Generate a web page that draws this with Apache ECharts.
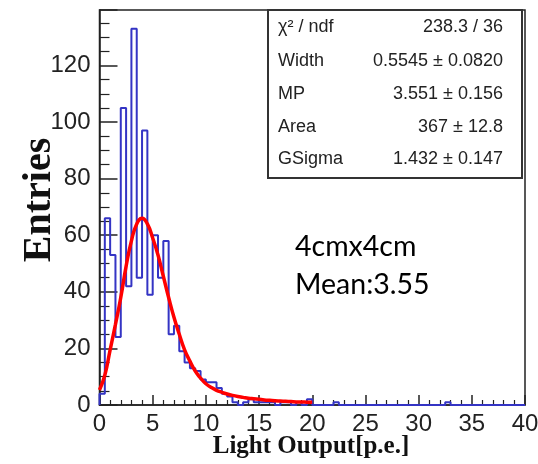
<!DOCTYPE html>
<html><head><meta charset="utf-8">
<script src="https://cdn.jsdelivr.net/npm/echarts@6/dist/echarts.min.js"></script>
<style>html,body{margin:0;padding:0;background:#fff}#c{width:538px;height:464px}</style>
</head><body><div id="c"></div>
<script>
// Histogram: 80 bins of width 0.5 from 0 to 40
const binWidth = 0.5;
const counts = [
  4, 66, 53, 24, 105, 42, 133, 45, 97, 39,
  60, 45, 58, 25, 28, 19, 15, 13, 12, 9,
  8, 8, 6, 4, 3, 1, 0, 1, 2, 1,
  1, 1, 1, 0, 1, 1, 0, 1, 0, 2,
  0, 0, 0, 0, 1, 0, 0, 0, 0, 0,
  0, 0, 0, 0, 0, 0, 0, 0, 0, 0,
  0, 0, 0, 0, 0, 1, 0, 0, 0, 0,
  0, 0, 0, 0, 0, 0, 0, 0, 0, 0
];
// Fit curve
const fitX = [0,0.5,1,1.5,2,2.5,3,3.5,4,4.5,5,5.5,6,6.5,7,7.5,8,8.5,9,9.5,10,
  10.5,11,11.5,12,12.5,13,13.5,14,14.5,15,15.5,16,16.5,17,17.5,18,18.5,19,19.5,20];
const fitY = [5.3,10.5,19.5,28.5,38,49,58,64,66,64,59,53,45.5,38,31,25,19.5,15.5,12,9.5,7.5,
  6.2,5.2,4.5,3.9,3.4,3.0,2.7,2.4,2.2,2.0,1.8,1.65,1.5,1.4,1.3,1.2,1.1,1.05,1.0,0.95];
const statLabels = ['\u03C7\u00B2 / ndf', 'Width', 'MP', 'Area', 'GSigma'];
const statValues = ['238.3 / 36', '0.5545 \u00B1 0.0820', '3.551 \u00B1 0.156', '367 \u00B1 12.8', '1.432 \u00B1 0.147'];
const noteLines = ['4cmx4cm', 'Mean:3.55'];
const xTitle = 'Light Output[p.e.]';
const yTitle = 'Entries';

const histPts = [[0, 0]];
counts.forEach((c, i) => histPts.push([i * binWidth, c]));
histPts.push([counts.length * binWidth, counts[counts.length - 1]]);
histPts.push([counts.length * binWidth, 0]);
const fitPts = fitX.map((x, i) => [x, fitY[i]]);

const chart = echarts.init(document.getElementById('c'), null, {renderer: 'canvas'});
const statRowY = [27, 61, 94, 127, 159];
const graphics = [
  {type: 'rect', shape: {x: 268, y: 10, width: 254, height: 168},
   style: {fill: '#fff', stroke: '#333', lineWidth: 2}, z: 100},
  {type: 'text', x: 40, y: 200, rotation: Math.PI / 2,
   style: {text: yTitle, fontSize: 40, fontFamily: 'Liberation Serif', fontWeight: 'bold',
           fill: '#111', align: 'center', verticalAlign: 'middle'}, z: 100},
  {type: 'text', x: 311, y: 447,
   style: {text: xTitle, fontSize: 25, fontFamily: 'Liberation Serif', fontWeight: 'bold',
           fill: '#111', align: 'center', verticalAlign: 'middle'}, z: 100}
];
statLabels.forEach((t, i) => {
  graphics.push({type: 'text', x: 278, y: statRowY[i], z: 101,
    style: {text: t, fontSize: 18, fontFamily: 'Liberation Sans', fill: '#222', align: 'left', verticalAlign: 'middle'}});
  graphics.push({type: 'text', x: 503, y: statRowY[i], z: 101,
    style: {text: statValues[i], fontSize: 18, fontFamily: 'Liberation Sans', fill: '#222', align: 'right', verticalAlign: 'middle'}});
});
noteLines.forEach((t, i) => {
  graphics.push({type: 'text', x: 295, y: 247 + i * 38, z: 101,
    style: {text: t, fontSize: 28.5, fontFamily: 'Lato', fill: '#000', align: 'left', verticalAlign: 'middle'}});
});

chart.setOption({
  animation: false,
  backgroundColor: '#fff',
  grid: {left: 99.5, right: 13, top: 10, bottom: 59, show: true, borderColor: '#222', borderWidth: 1.5,
         containLabel: false, outerBoundsMode: 'none'},
  xAxis: {
    type: 'value', min: 0, max: 40, interval: 5,
    axisLine: {show: true, onZero: false, lineStyle: {color: '#222', width: 1.5}},
    axisTick: {show: true, inside: true, length: 10, lineStyle: {color: '#222', width: 1.5}},
    minorTick: {show: true, splitNumber: 5, length: 5, lineStyle: {color: '#222', width: 1.2}},
    splitLine: {show: false},
    axisLabel: {color: '#222', fontSize: 24, fontFamily: 'Liberation Sans', margin: 7}
  },
  yAxis: {
    type: 'value', min: 0, max: 139.6, interval: 20,
    axisLine: {show: true, onZero: false, lineStyle: {color: '#222', width: 1.5}},
    axisTick: {show: true, inside: true, length: 18, lineStyle: {color: '#222', width: 1.5}},
    minorTick: {show: true, splitNumber: 4, length: 10, lineStyle: {color: '#222', width: 1.2}},
    splitLine: {show: false},
    axisLabel: {color: '#222', fontSize: 24, fontFamily: 'Liberation Sans', margin: 9,
      formatter: v => (Math.abs(v % 20) < 1e-6 ? String(v) : '')}
  },
  graphic: graphics,
  series: [
    {type: 'line', data: histPts, step: 'end', symbol: 'none', clip: true,
     lineStyle: {color: '#3434c4', width: 2}, z: 2},
    {type: 'line', data: fitPts, smooth: true, symbol: 'none', clip: true,
     lineStyle: {color: '#ff0000', width: 3.5}, z: 3}
  ]
});
</script></body></html>
